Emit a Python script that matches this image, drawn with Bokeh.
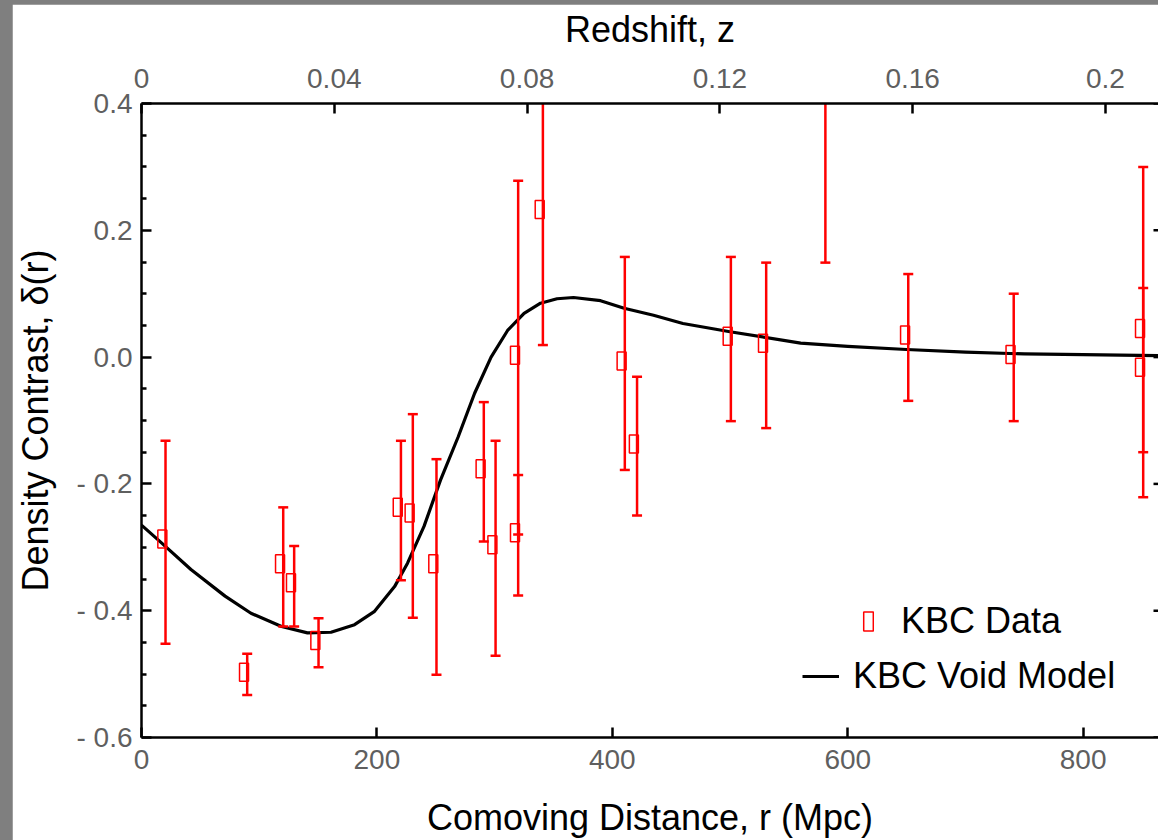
from bokeh.plotting import figure
from bokeh.models import (Range1d, LinearAxis, FixedTicker, Legend, LegendItem,
                          ColumnDataSource)
from bokeh.transform import dodge
from bokeh.layouts import column
from bokeh.embed import file_html
from bokeh.resources import INLINE

# ---------------- data ----------------
kbc_r = [20.4, 89.8, 120.4, 129.7, 150.4, 220.4, 230.5, 250.6, 290.8, 300.8,
         320.0, 320.0, 341.0, 410.6, 421.0, 500.7, 530.7, 581.0, 651.4, 741.0,
         851.0, 851.0]
kbc_delta = [-0.287, -0.497, -0.326, -0.356, -0.447, -0.237, -0.246, -0.326,
             -0.176, -0.296, 0.003, -0.277, 0.233, -0.006, -0.137, 0.033,
             0.022, 0.45, 0.035, 0.004, 0.045, -0.016]
kbc_upper = [-0.132, -0.468, -0.237, -0.298, -0.412, -0.132, -0.090, -0.161,
             -0.071, -0.132, 0.278, -0.186, 0.447, 0.158, -0.031, 0.158,
             0.149, 0.75, 0.131, 0.100, 0.300, 0.109]
kbc_lower = [-0.452, -0.533, -0.425, -0.425, -0.489, -0.352, -0.411, -0.501,
             -0.291, -0.471, -0.280, -0.376, 0.019, -0.178, -0.250, -0.101,
             -0.112, 0.149, -0.069, -0.101, -0.221, -0.150]

model_r = [0, 17, 42, 71, 93, 119, 141, 161, 181, 198, 215, 226, 240, 254,
           269, 283, 297, 311, 325, 339, 353, 367, 390, 410, 435, 460, 500,
           560, 600, 650, 700, 750, 800, 870]
model_delta = [-0.265, -0.293, -0.335, -0.377, -0.404, -0.425, -0.435, -0.434,
               -0.422, -0.401, -0.362, -0.325, -0.267, -0.194, -0.126, -0.057,
               0.0, 0.042, 0.069, 0.085, 0.092, 0.094, 0.089, 0.077, 0.066,
               0.053, 0.040, 0.022, 0.017, 0.012, 0.008, 0.005, 0.004, 0.002]

x_ticks = [0, 200, 400, 600, 800]
y_ticks = [-0.6, -0.4, -0.2, 0.0, 0.2, 0.4]
y_tick_labels = ["- 0.6", "- 0.4", "- 0.2", "0.0", "0.2", "0.4"]
y_minor = [-0.55, -0.5, -0.45, -0.35, -0.3, -0.25, -0.15, -0.1, -0.05,
           0.05, 0.1, 0.15, 0.25, 0.3, 0.35]
z_ticks = [0, 0.04, 0.08, 0.12, 0.16, 0.2]
z_tick_labels = ["0", "0.04", "0.08", "0.12", "0.16", "0.2"]

X_END = 864
Z_END = 0.211

FONT = "Liberation Sans"
TICK_COLOR = "#5f5f5f"

p = figure(width=1146, height=836, title=None,
           x_range=Range1d(0, X_END), y_range=Range1d(-0.6, 0.4),
           output_backend="svg", toolbar_location=None,
           min_border_left=128, min_border_right=0,
           min_border_top=99, min_border_bottom=102)
p.margin = (4, 0, 0, 12)
p.grid.visible = False
p.outline_line_color = None
p.background_fill_color = "white"
p.border_fill_color = "white"
p.extra_x_ranges = {"z": Range1d(0, Z_END)}


def style_axis(ax, tick_in=10, minor_in=0):
    ax.axis_line_width = 2.5
    ax.axis_line_color = "black"
    ax.major_tick_in = tick_in
    ax.major_tick_out = 0
    ax.minor_tick_in = minor_in
    ax.minor_tick_out = 0
    ax.major_tick_line_width = 2.5
    ax.minor_tick_line_width = 2.5
    ax.major_tick_line_color = "black"
    ax.minor_tick_line_color = "black"
    ax.major_label_text_font = FONT
    ax.major_label_text_font_size = "28px"
    ax.major_label_text_color = TICK_COLOR
    ax.axis_label_text_font = FONT
    ax.axis_label_text_font_size = "36px"
    ax.axis_label_text_font_style = "normal"
    ax.axis_label_text_color = "black"


xa = p.xaxis[0]
xa.ticker = FixedTicker(ticks=x_ticks)
xa.axis_label = "Comoving Distance, r (Mpc)"
style_axis(xa)
xa.major_label_standoff = 12
xa.axis_label_standoff = 25

ya = p.yaxis[0]
ya.ticker = FixedTicker(ticks=y_ticks, minor_ticks=y_minor)
ya.major_label_overrides = dict(zip(y_ticks, y_tick_labels))
ya.axis_label = "Density Contrast, δ(r)"
style_axis(ya, minor_in=5)
ya.major_label_standoff = 9
ya.axis_label_standoff = 17

za = LinearAxis(x_range_name="z", ticker=FixedTicker(ticks=z_ticks))
za.major_label_overrides = dict(zip(z_ticks, z_tick_labels))
za.axis_label = "Redshift, z"
style_axis(za)
za.major_label_standoff = 16
za.axis_label_standoff = 16
p.add_layout(za, "above")

# right-hand frame ticks (the right axis line itself lies just outside the view)
p.scatter(x=[X_END] * len(y_ticks), y=y_ticks, marker="dash", size=10,
          line_color="black", line_width=2.5)

# ---------------- glyphs ----------------
src = ColumnDataSource(dict(r=kbc_r, d=kbc_delta, hi=kbc_upper, lo=kbc_lower))

line = p.line(model_r, model_delta, line_color="black", line_width=3.2,
              line_join="round")

p.segment(x0="r", y0="lo", x1="r", y1="hi", source=src,
          line_color="red", line_width=2.5)
p.scatter(x="r", y="hi", source=src, marker="dash", size=10,
          line_color="red", line_width=2.5)
p.scatter(x="r", y="lo", source=src, marker="dash", size=10,
          line_color="red", line_width=2.5)
sq = p.rect(x=dodge("r", -2.7, range=p.x_range), y="d", source=src,
            width=9, height=18, width_units="screen", height_units="screen",
            fill_color=None, line_color="red", line_width=1.5)

common = dict(padding=0, margin=0, spacing=0, border_line_color=None,
              background_fill_alpha=0, label_text_font=FONT,
              label_text_font_size="36px", label_text_color="black")
leg1 = Legend(items=[LegendItem(label="KBC Data", renderers=[sq])],
              location=(721, 95), glyph_width=12, glyph_height=24,
              label_standoff=27, **common)
leg2 = Legend(items=[LegendItem(label="KBC Void Model", renderers=[line])],
              location=(661, 40), glyph_width=37, glyph_height=24,
              label_standoff=14, **common)
p.add_layout(leg1)
p.add_layout(leg2)

layout = column(p, styles={"background-color": "#7f7f7f"})
open("out.html", "w").write(file_html(layout, INLINE))
